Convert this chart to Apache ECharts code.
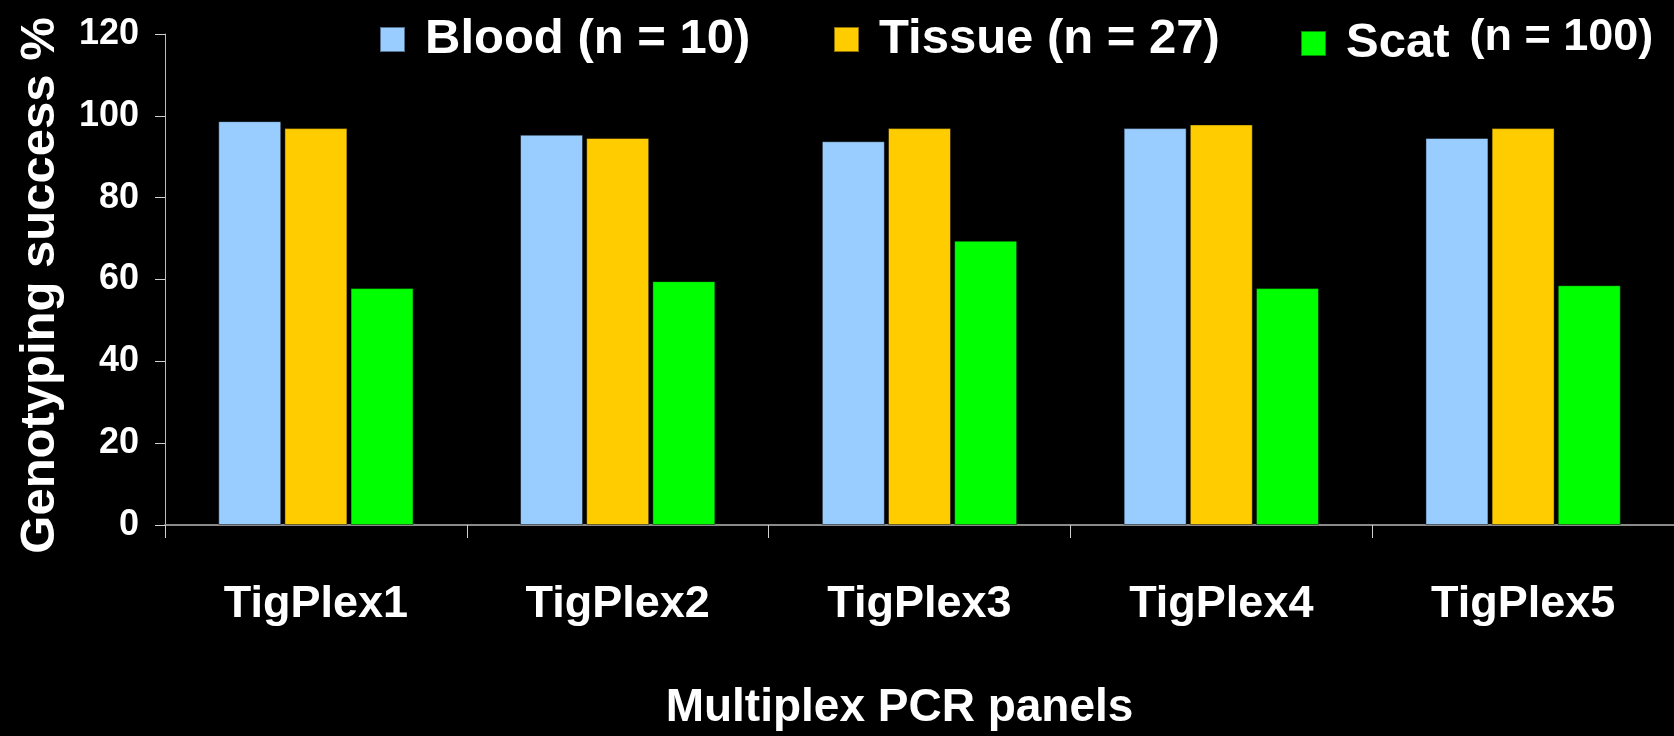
<!DOCTYPE html>
<html>
<head>
<meta charset="utf-8">
<title>Genotyping success by multiplex PCR panel</title>
<script src="https://cdn.jsdelivr.net/npm/echarts@6/dist/echarts.min.js"></script>
<style>
  html, body { margin: 0; padding: 0; background: #000; }
  #chart { width: 1674px; height: 736px; }
</style>
</head>
<body>
<div id="chart"></div>
<script>
// Multiplex panels and genotyping success (%) per sample type
const categories = ['TigPlex1', 'TigPlex2', 'TigPlex3', 'TigPlex4', 'TigPlex5'];
const blood  = [98.7, 95.4, 93.8, 97.0, 94.6];
const tissue = [97.0, 94.6, 97.0, 97.9, 97.0];
const scat   = [57.9, 59.6, 69.5, 57.9, 58.6];
const seriesNames = ['Blood', 'Tissue', 'Scat'];
const sampleSizes = ['(n = 10)', '(n = 27)', '(n = 100)'];

const FONT = "'Liberation Sans', Arial, Helvetica, sans-serif";
const colors = ['#99CCFF', '#FFCC00', '#00FF00'];

const chart = echarts.init(document.getElementById('chart'));

function legendFor(i, left) {
  const rich = {
    a: { fontSize: 49, fontWeight: 'bold', color: '#fff', fontFamily: FONT, padding: [0, 0, 0, 15] },
    c: { fontSize: 45, fontWeight: 'bold', color: '#fff', fontFamily: FONT, padding: [0, 0, 12, 20] }
  };
  return {
    data: [seriesNames[i]],
    left: left,
    top: 15,
    padding: 0,
    itemWidth: 25,
    itemHeight: 25,
    icon: 'rect',
    selectedMode: false,
    formatter: function (name) {
      return i === 2
        ? '{a|' + name + '}{c|' + sampleSizes[i] + '}'
        : '{a|' + name + ' ' + sampleSizes[i] + '}';
    },
    textStyle: { rich: rich, color: '#fff' }
  };
}

const barStyle = (c) => ({ color: c, borderColor: 'rgba(0,0,0,0.45)', borderWidth: 1 });

chart.setOption({
  backgroundColor: '#000',
  animation: false,
  legend: [legendFor(0, 379), legendFor(1, 833), legendFor(2, 1300)],
  grid: { left: 165, top: 34, width: 1515, height: 496, containLabel: false },
  xAxis: {
    type: 'category',
    data: categories,
    name: 'Multiplex PCR panels',
    nameLocation: 'middle',
    nameGap: 160,
    nameTextStyle: {
      color: '#fff', fontSize: 46, fontWeight: 'bold', fontFamily: FONT,
      padding: [0, 40, 0, 0]
    },
    axisLine: { lineStyle: { color: '#8a8a8a', width: 2 } },
    axisTick: { show: true, length: 13, lineStyle: { color: '#d0d0d0', width: 1 } },
    axisLabel: {
      color: '#fff', fontSize: 45, fontWeight: 'bold', fontFamily: FONT, margin: 57
    },
    splitLine: { show: false }
  },
  yAxis: {
    type: 'value',
    min: 0,
    max: 120,
    interval: 20,
    name: 'Genotyping success %',
    nameLocation: 'middle',
    nameGap: 100,
    nameRotate: 90,
    nameTextStyle: {
      color: '#fff', fontSize: 49, fontWeight: 'bold', fontFamily: FONT,
      padding: [0, 12, 0, 0]
    },
    axisLine: { show: true, lineStyle: { color: '#bdbdbd', width: 1 } },
    axisTick: { show: true, length: 10, lineStyle: { color: '#d0d0d0', width: 1 } },
    axisLabel: { color: '#fff', fontSize: 36, fontWeight: 'bold', fontFamily: FONT, margin: 26 },
    splitLine: { show: false }
  },
  series: [
    { name: seriesNames[0], type: 'bar', data: blood,  barWidth: 63, barGap: '5%', itemStyle: barStyle(colors[0]) },
    { name: seriesNames[1], type: 'bar', data: tissue, barWidth: 63, barGap: '5%', itemStyle: barStyle(colors[1]) },
    { name: seriesNames[2], type: 'bar', data: scat,   barWidth: 63, barGap: '5%', itemStyle: barStyle(colors[2]) }
  ]
});
</script>
</body>
</html>
